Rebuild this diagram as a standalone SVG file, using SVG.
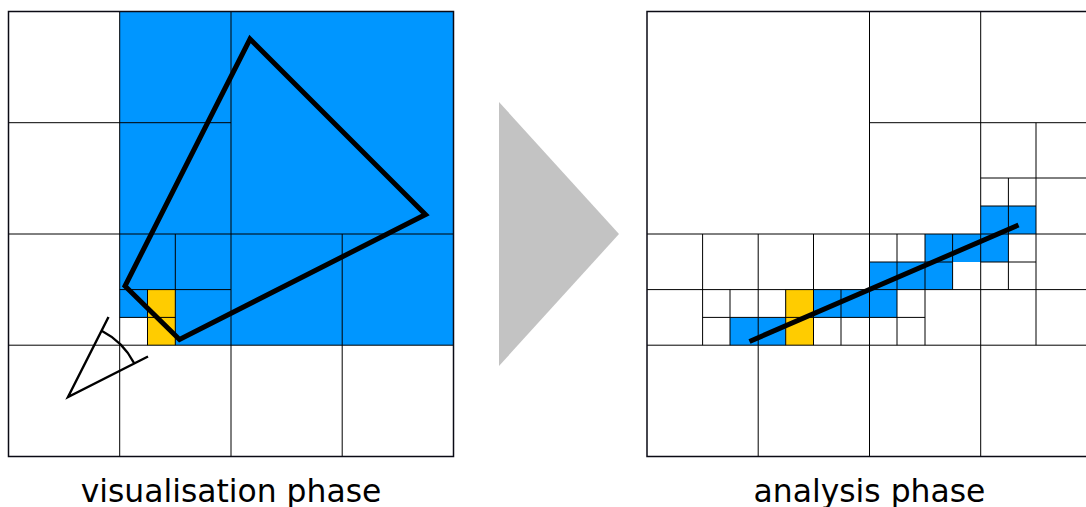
<svg xmlns="http://www.w3.org/2000/svg" width="1086" height="507" viewBox="0 0 1086 507">
<style>
.b{fill:#0096ff}.y{fill:#ffcc00}
.g{stroke:#000;stroke-width:1;fill:none}
.o{stroke:#0a0a14;stroke-width:1.5;fill:none}
.t{stroke:#000;stroke-width:5;fill:none}
.e{stroke:#000;stroke-width:2.4;fill:none}
text{font-family:"DejaVu Sans",sans-serif;font-size:31.4px;fill:#000;text-anchor:middle}
</style>
<rect width="1086" height="507" fill="#fff"/>
<g id="visualisation-panel">
<path class="b" d="M119.7 11.5H453.5V345.2H147.5V317.4H119.7Z"/>
<rect class="y" x="147.5" y="289.6" width="27.8" height="55.6"/>
<path class="g" d="M119.7 11.5V456.5M231 11.5V456.5M342.2 234V456.5M175.3 234V345.2M147.5 289.6V345.2M8.5 122.7H231M8.5 234H453.5M119.7 289.6H231M119.7 317.4H175.3M8.5 345.2H453.5"/>
<rect class="o" x="8.5" y="11.5" width="445" height="445"/>
<path class="t" d="M250 39L425.5 214.5L179.5 339.5L125 286Z"/>
<path class="e" d="M108.5 317L68 397L148 356.5M102 331A74 74 0 0 1 134 363"/>
</g>
<g id="arrow"><path d="M499 102L619 234L499 366Z" fill="#c3c3c3"/></g>
<g id="analysis-panel">
<path class="b" d="M980.7 206H1036V234H1008.4V262H952.6V289.6H897V317.4H785.7V345.2H730V317.4H785.7V289.6H869.5V262H925V234H980.7Z"/>
<rect class="y" x="785.7" y="289.6" width="27.8" height="55.6"/>
<path class="g" d="M869.5 11.5V456.5M980.7 11.5V456.5M1036 122.7V345.2M1008.4 178V289.6M952.6 234V289.6M925 234V345.2M897 234V345.2M841 289.6V345.2M813.5 234V345.2M785.7 289.6V345.2M758.2 234V456.5M730 289.6V345.2M702.6 234V345.2M869.5 122.7H1086M980.7 178H1086M980.7 206H1036M647 234H1086M869.5 262H952.6M980.7 262H1036M647 289.6H1086M702.6 317.4H925M647 345.2H1086"/>
<path class="o" d="M1086 11.5H647V456.5H1086"/>
<path class="t" d="M749.5 341.5L1018.5 225"/>
</g>
<g id="labels">
<text x="231" y="501.5">visualisation phase</text>
<text x="869.5" y="501.5">analysis phase</text>
</g>
</svg>
